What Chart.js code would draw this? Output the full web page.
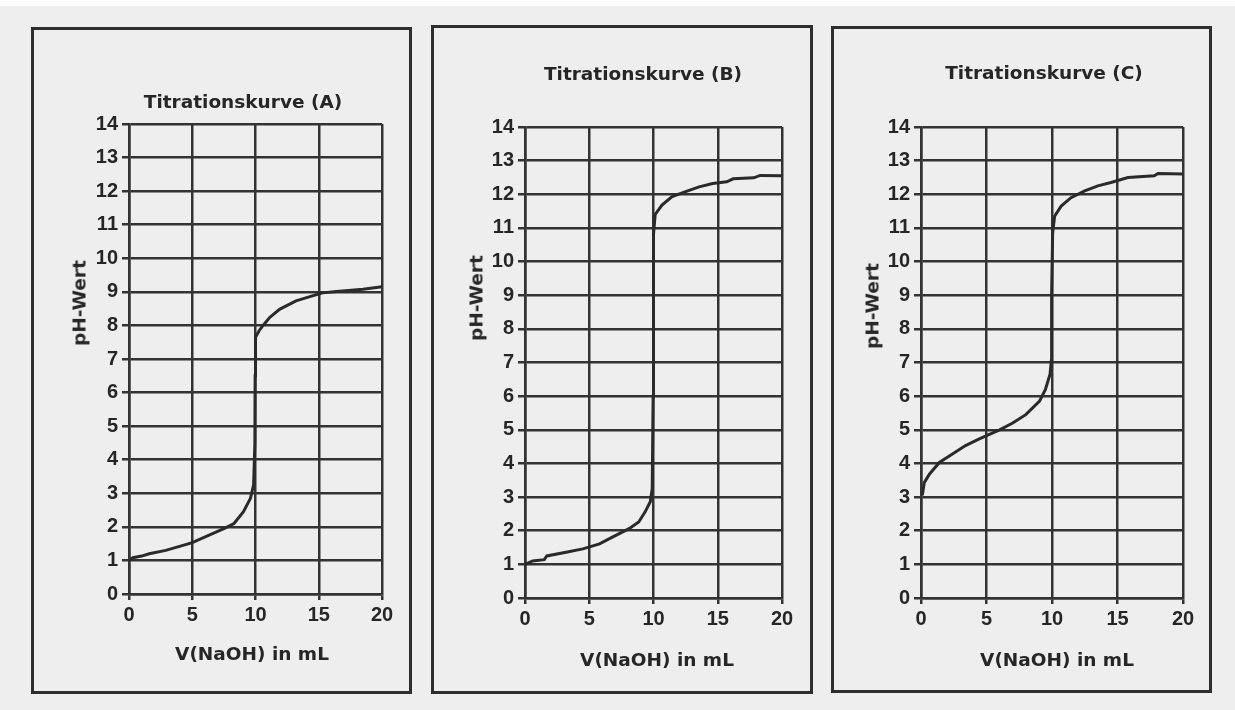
<!DOCTYPE html>
<html lang="de">
<head>
<meta charset="UTF-8">
<title>Titrationskurven</title>
<script src="https://cdn.jsdelivr.net/npm/chart.js"></script>
<style>
  body { margin: 0; width: 1235px; height: 710px; position: relative; overflow: hidden;
         background: #eeeeee; font-family: "DejaVu Sans", sans-serif; color: #262626; }
  .strip { position: absolute; left: 0; top: 0; width: 1235px; height: 6px; background: #fbfbfb; }
  .panel { position: absolute; border: 3px solid #2e2e2e; box-sizing: border-box; }
  .panel canvas { position: absolute; left: 0; top: 0; }
  .lbl { position: absolute; font-weight: bold; font-size: 18.5px; white-space: nowrap;
         transform: translate(-50%, -50%); }
  .rot { transform: translate(-50%, -50%) rotate(-90deg); }
</style>
</head>
<body>
<div class="strip"></div>
<div id="root"></div>

<script>
  // data
  const xTicks = [0, 5, 10, 15, 20];
  const yTicks = [0, 1, 2, 3, 4, 5, 6, 7, 8, 9, 10, 11, 12, 13, 14];
  const titles = ["Titrationskurve (A)", "Titrationskurve (B)", "Titrationskurve (C)"];
  const xTitle = "V(NaOH) in mL";
  const yTitle = "pH-Wert";

  const volA = [0, 0.3, 1.0, 1.6, 2.9, 4.2, 5.0, 6.2, 7.5, 8.3, 9.05, 9.6, 9.85, 9.95, 9.97, 10.0, 10.3, 10.6, 11.1, 11.9, 13.2, 14.5, 15.3, 16.4, 18.5, 20];
  const phA  = [1.0, 1.08, 1.13, 1.2, 1.3, 1.44, 1.53, 1.73, 1.95, 2.1, 2.45, 2.85, 3.25, 4.5, 6.5, 7.65, 7.85, 8.0, 8.23, 8.48, 8.73, 8.88, 8.97, 9.01, 9.08, 9.15];

  const volB = [0, 0.6, 1.5, 1.7, 3.2, 4.5, 5.8, 6.8, 8.1, 8.85, 9.35, 9.75, 9.9, 9.97, 10.0, 10.13, 10.66, 11.45, 12.5, 13.55, 14.6, 15.7, 16.2, 17.8, 18.3, 20];
  const phB  = [1.0, 1.1, 1.14, 1.25, 1.36, 1.46, 1.61, 1.81, 2.06, 2.26, 2.56, 2.86, 3.25, 6.0, 10.8, 11.4, 11.68, 11.93, 12.08, 12.22, 12.32, 12.37, 12.46, 12.49, 12.56, 12.55];

  const volC = [0.1, 0.25, 0.64, 1.4, 2.4, 3.4, 4.45, 6.0, 7.0, 8.0, 9.05, 9.5, 9.85, 9.95, 9.97, 10.05, 10.2, 10.7, 11.45, 12.5, 13.5, 14.5, 15.8, 17.8, 18.1, 20];
  const phC  = [3.05, 3.43, 3.68, 4.03, 4.28, 4.53, 4.73, 5.0, 5.2, 5.45, 5.85, 6.2, 6.65, 7.05, 9.0, 10.85, 11.35, 11.65, 11.9, 12.1, 12.25, 12.35, 12.5, 12.55, 12.62, 12.6];

  // frame box, plot margins inside the frame, label positions (page coords)
  const panels = [
    { vol: volA, ph: phA, box: [31, 27, 381, 667], m: { l: 95, r: 27, t: 94, b: 97 },
      title: [243, 101], xt: [252, 653], yt: [79, 303] },
    { vol: volB, ph: phB, box: [431, 25, 382, 669], m: { l: 91, r: 28, t: 99, b: 93 },
      title: [643, 73], xt: [657, 659], yt: [476, 298] },
    { vol: volC, ph: phC, box: [831, 26, 381, 667], m: { l: 87, r: 26, t: 98, b: 92 },
      title: [1044, 72], xt: [1057, 659], yt: [872, 306] }
  ];

  const ink = "#333";
  const tickFont = { family: "Liberation Sans, Arial, sans-serif", weight: "bold", size: 20 };
  const root = document.getElementById("root");

  function label(text, pos, rot) {
    const d = document.createElement("div");
    d.className = "lbl" + (rot ? " rot" : "");
    d.textContent = text;
    d.style.left = pos[0] + "px";
    d.style.top = pos[1] + "px";
    root.appendChild(d);
  }

  panels.forEach((p, i) => {
    const [x, y, w, h] = p.box;
    const div = document.createElement("div");
    div.className = "panel";
    Object.assign(div.style, { left: x + "px", top: y + "px", width: w + "px", height: h + "px" });
    const cv = document.createElement("canvas");
    cv.width = w - 6;
    cv.height = h - 6;
    div.appendChild(cv);
    root.appendChild(div);

    label(titles[i], p.title);
    label(xTitle, p.xt);
    label(yTitle, p.yt, true);

    new Chart(cv, {
      type: "line",
      data: {
        datasets: [{
          data: p.vol.map((v, k) => ({ x: v, y: p.ph[k] })),
          borderColor: "#2a2a2a",
          borderWidth: 3,
          pointRadius: 0,
          tension: 0,
          fill: false
        }]
      },
      options: {
        responsive: false,
        animation: false,
        layout: { padding: { top: p.m.t, right: p.m.r, left: 0, bottom: 0 } },
        plugins: { legend: { display: false }, tooltip: { enabled: false } },
        scales: {
          x: {
            type: "linear", min: 0, max: 20,
            afterBuildTicks: s => { s.ticks = xTicks.map(v => ({ value: v })); },
            afterFit: s => { s.height = p.m.b; },
            grid: { color: ink, lineWidth: 2.5, tickLength: 6 },
            border: { color: ink, width: 2.5 },
            ticks: { color: "#262626", font: tickFont, padding: 3, maxRotation: 0, autoSkip: false }
          },
          y: {
            type: "linear", min: 0, max: 14,
            afterBuildTicks: s => { s.ticks = yTicks.map(v => ({ value: v })); },
            afterFit: s => { s.width = p.m.l; },
            grid: { color: ink, lineWidth: 2.5, tickLength: 7 },
            border: { color: ink, width: 2.5 },
            ticks: { color: "#262626", font: tickFont, padding: 4, autoSkip: false }
          }
        }
      }
    });
  });
</script>
</body>
</html>
